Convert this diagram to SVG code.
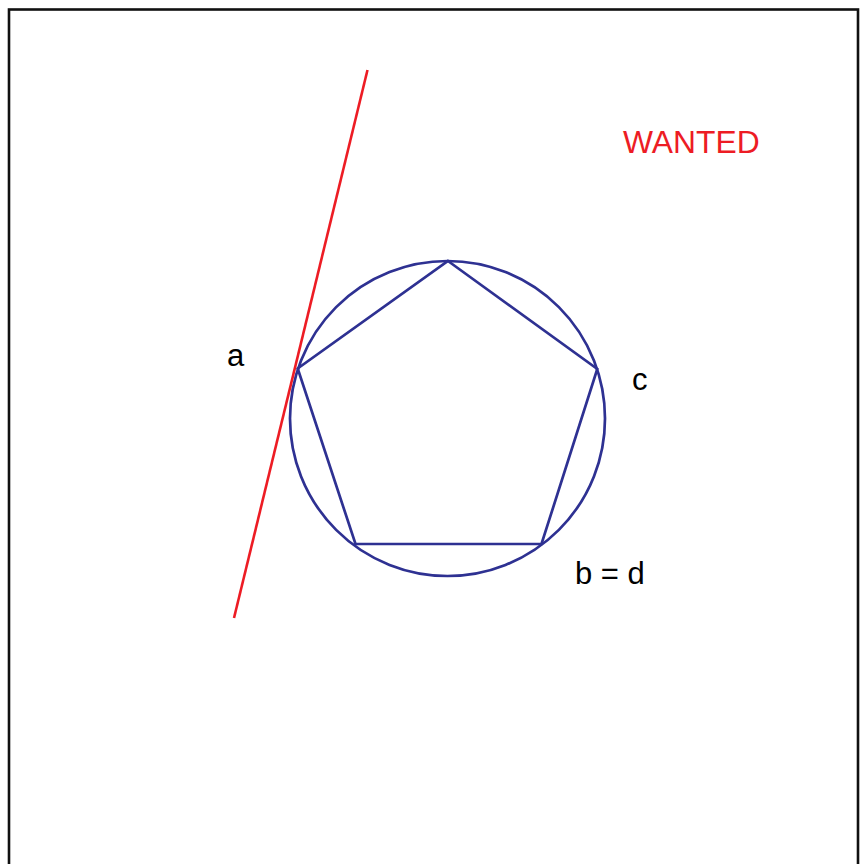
<svg xmlns="http://www.w3.org/2000/svg" width="861" height="864" viewBox="0 0 861 864">
<style>
.blue{fill:none;stroke:#2e3192;stroke-width:2.7}
.lbl{font-family:"Liberation Sans",Arial,sans-serif;font-size:31px;fill:#000}
</style>
<rect width="861" height="864" fill="#fff"/>
<rect x="9" y="9.5" width="849" height="880" fill="none" stroke="#111" stroke-width="2.6"/>
<g id="circle"><circle class="blue" cx="447.5" cy="418.5" r="157.5"/></g>
<g id="pentagon"><polygon class="blue" stroke-linejoin="miter" points="448,261 597.3,369 541.5,544 355.5,544 297.7,368.5"/></g>
<g id="connectors"><line x1="367.5" y1="70" x2="234" y2="618" stroke="#ed1c24" stroke-width="2.6"/></g>
<g id="labels">
<text class="lbl" x="227" y="366">a</text>
<text class="lbl" x="632" y="390">c</text>
<text class="lbl" x="575" y="584">b = d</text>
<text class="lbl" x="623" y="153" style="fill:#ed1c24;font-size:31.8px">WANTED</text>
</g>
</svg>
